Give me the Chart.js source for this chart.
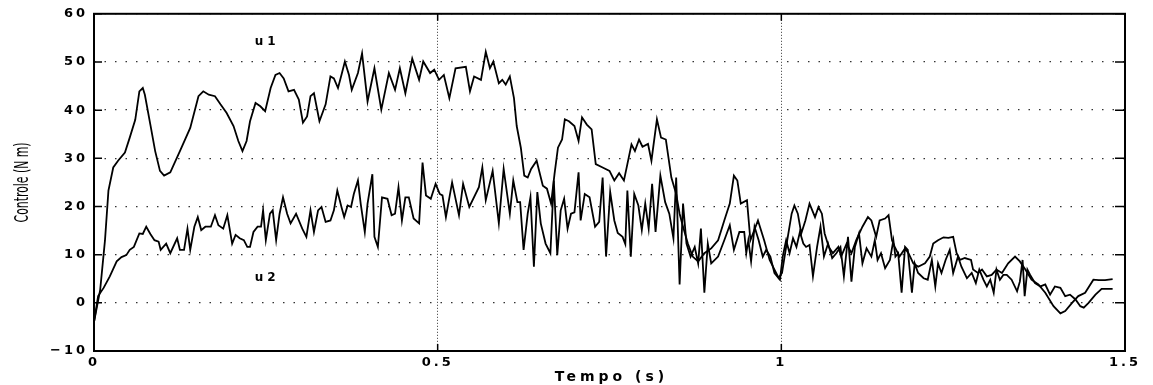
<!DOCTYPE html>
<html>
<head>
<meta charset="utf-8">
<script src="https://cdn.jsdelivr.net/npm/chart.js@4.4.1/dist/chart.umd.min.js"></script>
<style>
    body { margin: 0; background: #fff; }
    canvas { display: block; }
</style>
</head>
<body>
<canvas id="controlChart" width="1153" height="385"></canvas>
<script>
// values
const t1 = [0,0.009,0.016,0.021,0.028,0.035,0.045,0.052,0.06,0.066,
    0.071,0.074,0.082,0.089,0.096,0.102,0.111,0.125,0.14,0.152,
    0.159,0.167,0.176,0.184,0.193,0.203,0.21,0.216,0.222,0.227,
    0.235,0.242,0.249,0.257,0.264,0.27,0.276,0.283,0.291,0.298,
    0.304,0.31,0.315,0.32,0.328,0.337,0.344,0.349,0.355,0.36,
    0.365,0.371,0.375,0.384,0.39,0.398,0.408,0.418,0.429,0.438,
    0.445,0.453,0.463,0.473,0.479,0.489,0.495,0.502,0.509,0.517,
    0.526,0.541,0.547,0.553,0.563,0.57,0.576,0.581,0.589,0.594,
    0.599,0.605,0.611,0.615,0.621,0.626,0.631,0.636,0.644,0.653,
    0.659,0.665,0.67,0.675,0.681,0.685,0.691,0.699,0.705,0.71,
    0.717,0.724,0.73,0.74,0.75,0.757,0.764,0.771,0.776,0.782,
    0.787,0.793,0.798,0.806,0.811,0.819,0.825,0.832,0.84,0.847,
    0.852,0.857,0.864,0.871,0.879,0.888,0.898,0.908,0.917,0.925,
    0.931,0.936,0.941,0.95,0.955,0.966,0.975,0.983,0.99,0.996,
    1.001,1.007,1.015,1.019,1.024,1.029,1.035,1.041,1.049,1.054,
    1.059,1.063,1.069,1.075,1.083,1.087,1.095,1.102,1.109,1.118,
    1.126,1.131,1.138,1.143,1.151,1.156,1.161,1.165,1.172,1.18,
    1.185,1.192,1.199,1.209,1.216,1.221,1.228,1.236,1.243,1.25,
    1.255,1.26,1.267,1.276,1.279,1.286,1.292,1.299,1.306,1.313,
    1.321,1.33,1.34,1.347,1.355,1.364,1.374,1.384,1.396,1.406,
    1.413,1.423,1.432,1.442,1.454,1.462,1.471,1.482];
const u1 = [-4,2.7,13,23.3,28.1,29.5,31.2,34.3,38,43.9,
    44.6,43.2,37,31.5,27.4,26.4,27.1,31.5,36.3,42.9,
    43.9,43.2,42.9,41.2,39.4,36.7,33.6,31.5,33.6,37.7,
    41.5,40.8,39.8,44.6,47.3,47.7,46.6,43.9,44.2,42.2,
    37.4,38.7,42.9,43.5,37.7,41.2,47,46.6,44.6,47.3,
    50.1,47.3,44.2,47.7,51.8,41.8,48.7,40.1,47.7,44.2,
    48.7,43.5,50.7,46.3,50.1,47.7,48.4,46.3,47.3,42.5,
    48.7,49,43.9,47,46.3,52.1,48.7,50.1,45.6,46.3,
    45.3,47,42.5,36.7,32.2,26.4,26,27.8,29.5,24.3,
    23.7,20.6,26.7,32.2,33.9,38.1,37.7,36.7,33.6,38.5,
    37,36,28.8,28.1,27.4,25.4,26.9,25.4,28.8,32.9,
    31.5,33.9,32.4,33,29.5,38.1,34.3,33.9,26,22.6,
    18.5,15.8,12.3,9.6,8.6,10.3,11.3,13,17.1,20.6,
    26.4,25.4,20.6,21.3,13,17.1,13,8.9,6.9,5.2,
    6.2,11.6,18.5,20.2,18.5,14.4,17.1,20.6,17.8,19.9,
    18.5,14.4,11.6,10.3,11.6,9.6,12.3,10.3,13,15.8,
    17.8,17.1,13.7,17.1,17.5,18.2,13,11.6,9.6,11.3,
    10.3,8.2,7.5,8.2,9.6,12.3,13,13.6,13.5,13.7,
    10.3,8.9,9.3,8.9,6.9,6.2,6.9,5.5,5.8,6.9,
    6.2,8.2,9.6,8.6,6.9,4.8,3.8,2.1,-0.7,-2.2,
    -1.7,0,1.4,2.1,4.8,4.7,4.7,4.9];

const t2 = [0,0.006,0.014,0.023,0.033,0.04,0.047,0.052,0.058,0.066,
    0.071,0.076,0.082,0.088,0.094,0.097,0.105,0.111,0.121,0.125,
    0.131,0.136,0.14,0.146,0.151,0.156,0.162,0.17,0.176,0.181,
    0.188,0.194,0.201,0.206,0.212,0.218,0.223,0.227,0.232,0.238,
    0.243,0.246,0.25,0.256,0.26,0.265,0.27,0.275,0.281,0.286,
    0.294,0.303,0.309,0.315,0.32,0.326,0.331,0.337,0.344,0.349,
    0.354,0.36,0.364,0.369,0.374,0.378,0.384,0.388,0.394,0.398,
    0.405,0.408,0.413,0.419,0.427,0.433,0.438,0.443,0.448,0.453,
    0.458,0.465,0.473,0.478,0.483,0.49,0.497,0.503,0.507,0.512,
    0.521,0.531,0.537,0.546,0.56,0.565,0.57,0.58,0.589,0.596,
    0.605,0.61,0.616,0.62,0.625,0.631,0.635,0.64,0.645,0.65,
    0.657,0.664,0.669,0.674,0.679,0.684,0.689,0.694,0.699,0.705,
    0.708,0.714,0.721,0.729,0.735,0.74,0.745,0.751,0.757,0.762,
    0.769,0.773,0.776,0.781,0.786,0.792,0.797,0.802,0.807,0.812,
    0.817,0.824,0.831,0.837,0.843,0.847,0.852,0.857,0.862,0.868,
    0.874,0.879,0.883,0.888,0.893,0.898,0.908,0.917,0.925,0.931,
    0.939,0.946,0.949,0.952,0.956,0.961,0.967,0.973,0.978,0.984,
    0.99,0.998,1.002,1.007,1.012,1.017,1.022,1.027,1.032,1.036,
    1.041,1.046,1.052,1.057,1.062,1.068,1.074,1.08,1.086,1.091,
    1.097,1.102,1.107,1.113,1.118,1.124,1.131,1.136,1.14,1.145,
    1.151,1.158,1.163,1.166,1.17,1.175,1.18,1.184,1.19,1.194,
    1.199,1.207,1.213,1.219,1.224,1.228,1.233,1.239,1.245,1.25,
    1.257,1.262,1.27,1.277,1.283,1.288,1.294,1.299,1.304,1.309,
    1.313,1.318,1.323,1.328,1.335,1.343,1.347,1.351,1.354,1.358,
    1.362,1.369,1.377,1.384,1.391,1.398,1.406,1.413,1.42,1.428,
    1.435,1.44,1.447,1.457,1.466,1.482];
const u2 = [-4,1.4,3.1,5.5,8.6,9.5,9.9,11,11.6,14.4,
    14.3,15.8,14.3,13,12.7,11,12.3,10.3,13.4,11,
    11,15.4,11,15.8,17.8,15.1,15.8,15.8,18.2,16.1,
    15.4,18.2,12.3,14.1,13.4,13,11.6,11.6,14.7,15.8,
    15.8,19.2,13,18.5,19.2,13,18.5,21.9,18.5,16.5,
    18.5,15.4,13.7,19.2,14.7,19.2,19.9,16.8,17.1,19.2,
    23.3,19.9,17.8,20.2,19.9,22.6,25.4,20.6,14.7,20.6,
    26.7,13.7,11.6,21.9,21.6,18.2,18.5,24,17.1,21.9,
    21.9,17.5,16.5,29.1,22.3,21.6,24.7,22.6,22.3,17.8,
    25,18.2,24.7,19.9,24,28.1,21.3,27.4,16.5,27.8,
    18.5,25.4,20.9,20.9,11,18.5,21.9,7.5,23,16.5,
    12.3,10.3,25.4,9.9,19.2,21.6,15.4,18.5,18.8,27.1,
    17.1,22.6,21.9,15.8,16.8,26,9.6,23,17.1,14.5,
    13.7,12.2,23.3,9.6,22.6,20.2,15.1,20.6,15.4,24.7,
    14.7,26.4,20.9,18.5,13.4,26,3.8,20.6,12.3,9.6,
    11.6,8.2,15.4,2.1,12.3,8.2,9.6,13,16.1,11,
    14.7,14.7,10.3,13,8.6,15.8,13,9.6,11,9.6,
    6.2,4.8,9.6,13,10.3,13.4,11.6,14.7,12.3,11.6,
    12,5.5,11.6,15.8,9.6,12.3,9.3,10.3,11.6,5.5,
    13.7,4.4,11.6,14.4,8.2,11.3,9.6,13,8.9,10.3,
    7.2,8.9,13,9.6,10.3,2.1,11.6,11,2.1,8.2,
    6.2,5.1,4.8,8.9,3.4,8.2,6.2,8.9,11,6.2,
    9.6,7.5,5.1,6.2,4.1,6.9,4.8,3.4,4.8,2.1,
    6.9,4.8,5.8,5.8,4.8,2.4,4.4,8.9,1.4,6.9,
    5.8,4.1,3.4,3.8,1.7,3.4,3.1,1.4,1.7,0.7,
    -0.7,-1,0,1.7,2.9,2.9];

const xTicks = [0, 0.5, 1, 1.5];
const yTicks = [-10, 0, 10, 20, 30, 40, 50, 60];
const seriesNames = ['u1', 'u2'];
const xTitle = 'Tempo (s)';
const yTitle = 'Controle (N m)';

// where the u1 / u2 names sit, in data units
const nameSpots = [{ t: 0.249, u: 54.2 }, { t: 0.249, u: 5.2 }];

const tickFont = { family: 'DejaVu Sans', weight: 'bold', size: 13 };

function toPoints(ts, us) {
    return ts.map((t, i) => ({ x: t, y: us[i] }));
}

// box, inward tick marks and all the extra text
const framePlugin = {
    id: 'frame',
    beforeDraw(chart) {
        chart.ctx.letterSpacing = '3px';
    },
    afterDraw(chart) {
        const { ctx, chartArea: a, scales } = chart;
        const xs = scales.x, ys = scales.y;
        ctx.save();
        ctx.strokeStyle = '#000';
        ctx.lineWidth = 2;
        ctx.strokeRect(a.left, a.top, a.right - a.left, a.bottom - a.top);

        ctx.lineWidth = 1.5;
        ctx.beginPath();
        yTicks.forEach(v => {
            const py = ys.getPixelForValue(v);
            ctx.moveTo(a.left, py); ctx.lineTo(a.left + 8, py);
            ctx.moveTo(a.right, py); ctx.lineTo(a.right - 10, py);
        });
        xTicks.forEach(v => {
            const px = xs.getPixelForValue(v);
            ctx.moveTo(px, a.bottom); ctx.lineTo(px, a.bottom - 7);
            ctx.moveTo(px, a.top); ctx.lineTo(px, a.top + 7);
        });
        ctx.stroke();

        ctx.fillStyle = '#000';
        ctx.textAlign = 'center';
        ctx.textBaseline = 'middle';
        ctx.font = 'bold 12px "DejaVu Sans"';
        ctx.letterSpacing = '4px';
        seriesNames.forEach((name, i) => {
            ctx.fillText(name, xs.getPixelForValue(nameSpots[i].t) + 2, ys.getPixelForValue(nameSpots[i].u));
        });

        ctx.font = 'bold 14px "DejaVu Sans"';
        ctx.letterSpacing = '4px';
        ctx.fillText(xTitle, (a.left + a.right) / 2 + 2, 377);

        ctx.letterSpacing = '0px';
        ctx.font = '19px "Liberation Sans Narrow", "DejaVu Sans Condensed", sans-serif';
        const w = ctx.measureText(yTitle).width;
        ctx.translate(23, (a.top + a.bottom) / 2);
        ctx.rotate(-Math.PI / 2);
        ctx.scale(Math.min(1, 80 / w), 1);
        ctx.fillText(yTitle, 0, 0);
        ctx.restore();
    }
};

const lineStyle = {
    borderColor: '#000',
    borderWidth: 1.8,
    pointRadius: 0,
    tension: 0,
    fill: false
};

const ctx = document.getElementById('controlChart').getContext('2d');
new Chart(ctx, {
    type: 'line',
    data: {
        datasets: [
            { label: seriesNames[0], data: toPoints(t1, u1), ...lineStyle },
            { label: seriesNames[1], data: toPoints(t2, u2), ...lineStyle }
        ]
    },
    options: {
        responsive: false,
        animation: false,
        devicePixelRatio: 1,
        layout: { padding: { left: 0, right: 28, top: 13, bottom: 0 } },
        plugins: { legend: { display: false }, tooltip: { enabled: false } },
        scales: {
            x: {
                type: 'linear',
                min: 0,
                max: 1.5,
                afterFit: s => { s.height = 34; },
                afterBuildTicks: s => { s.ticks = xTicks.map(v => ({ value: v })); },
                ticks: {
                    color: '#000',
                    font: tickFont,
                    padding: 4,
                    maxRotation: 0,
                    callback: v => String(v)
                },
                grid: { color: '#333', lineWidth: 1, drawTicks: false },
                border: { display: false, dash: [1, 2] }
            },
            y: {
                min: -10,
                max: 60,
                afterFit: s => { s.width = 94; },
                afterBuildTicks: s => { s.ticks = yTicks.map(v => ({ value: v })); },
                ticks: {
                    color: '#000',
                    font: tickFont,
                    padding: 6,
                    callback: v => (v < 0 ? '\u2212' + Math.abs(v) : String(v))
                },
                grid: { color: '#333', lineWidth: 1.3, drawTicks: false },
                border: { display: false, dash: [1.5, 9] }
            }
        }
    },
    plugins: [framePlugin]
});
</script>
</body>
</html>
